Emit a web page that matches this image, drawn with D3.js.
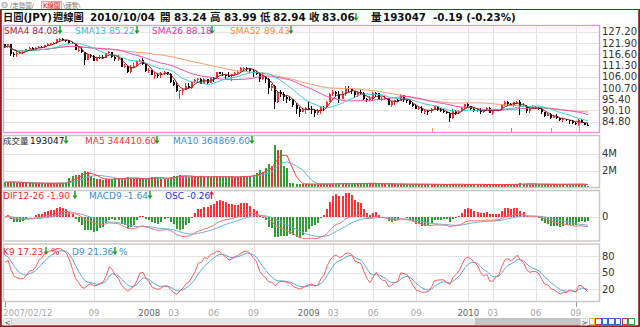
<!DOCTYPE html>
<html><head><meta charset="utf-8">
<script src="https://cdn.jsdelivr.net/npm/d3@7"></script>
<style>body{margin:0;background:#fff}svg{display:block}</style>
</head><body><svg id="chart" width="640" height="327"></svg>
<script>
// ---------------- DATA ----------------
const startDate = "2007-02-12";
const opens = [
121.3,119.9,121.2,116.9,116.5,117.4,117.5,117.8,118.9,119.6,
118.7,119.7,120.2,119.8,120.8,121.5,121.7,121.9,123.6,123.8,
123.2,123.1,121.8,121.4,118.8,118.8,117.5,114.1,116.4,115.8,
113.6,114.8,115.5,114.8,117.1,117.5,115.3,114.3,114.6,110.7,
110.9,108.3,110.8,111.1,113.2,114.1,112.0,108.8,109.1,106.8,
106.9,106.6,107.9,108.2,107.5,103.5,102.2,99.2,99.7,99.8,
101.7,100.9,103.4,104.4,105.0,102.6,104.8,103.2,105.5,105.2,
108.1,107.5,106.6,106.5,106.1,107.1,107.6,108.1,110.0,110.3,
110.0,108.9,107.9,107.8,104.7,105.9,105.1,100.5,101.8,94.0,
98.6,98.0,96.6,95.6,95.5,92.6,91.0,89.4,90.6,91.1,
90.9,90.5,88.7,89.8,91.8,91.5,94.3,97.7,98.7,98.0,
95.5,98.0,100.7,100.0,99.1,97.2,98.6,98.5,95.3,94.8,
95.3,98.5,98.2,95.2,95.6,95.8,92.8,94.1,94.8,94.7,
97.5,94.8,94.5,93.0,92.2,90.7,91.4,89.7,89.8,89.7,
90.9,92.0,90.1,89.9,89.6,88.9,86.5,89.8,89.1,89.9,
91.4,93.0,92.2,90.8,89.8,90.3,89.3,90.1,91.4,89.0,
90.1,90.5,90.2,92.5,94.2,93.2,92.2,93.9,94.2,91.7,
92.2,89.9,90.9,91.8,91.6,90.7,89.2,87.6,88.6,86.7,
87.3,86.6,85.4,86.2,85.6,85.2,84.3,83.9,85.8,84.3,
83.24];
const highs = [
121.5,121.6,121.3,117.6,118.0,118.4,118.3,119.0,120.1,119.9,
120.2,120.5,120.5,120.8,121.8,122.0,122.2,123.7,124.1,124.0,
123.4,123.3,122.4,121.9,119.9,119.8,117.8,116.6,116.7,116.4,
115.3,116.2,116.4,117.2,117.9,117.7,115.6,116.0,114.8,112.2,
111.0,111.3,112.3,113.2,114.2,114.6,112.1,110.1,109.2,108.0,
107.4,108.3,108.7,108.4,107.9,104.3,103.7,99.9,100.1,103.2,
102.9,103.5,104.7,105.2,105.4,105.2,105.1,105.6,106.0,108.3,
108.3,108.3,106.9,108.0,107.3,108.2,108.9,110.4,110.7,110.5,
110.1,109.6,108.5,108.1,108.0,106.4,105.2,102.4,101.9,99.3,
99.6,99.0,97.3,96.5,95.7,93.8,91.7,91.4,91.6,94.6,
92.0,90.9,90.9,92.1,92.2,94.5,98.3,99.7,99.4,99.4,
99.2,101.4,101.4,100.2,99.3,99.2,99.9,98.7,96.1,97.0,
98.9,98.9,98.3,96.6,96.8,96.0,94.4,95.2,95.6,97.8,
97.6,95.2,94.9,93.4,93.0,92.0,92.0,90.2,90.3,91.3,
92.3,92.3,91.1,90.6,89.8,89.2,90.8,90.1,90.2,91.8,
93.2,93.8,92.3,91.9,91.2,91.3,90.2,91.8,91.6,90.2,
90.8,90.8,92.8,94.4,94.7,93.5,94.0,94.7,94.9,93.6,
92.6,91.9,92.5,92.3,91.9,91.2,89.4,89.1,88.8,87.7,
88.5,86.7,86.6,86.3,85.7,85.4,84.5,86.0,85.9,84.4,
83.99];
const lows = [
119.6,119.7,115.8,115.2,115.5,116.9,116.6,117.6,118.6,117.9,
118.5,119.5,119.5,119.7,120.6,120.8,121.3,121.6,123.0,122.8,
122.2,121.5,121.2,118.5,117.6,117.2,111.6,113.8,114.8,113.4,
113.3,114.3,114.5,114.7,116.8,114.8,113.2,113.5,110.6,109.9,
107.9,107.6,109.9,110.6,112.9,111.6,108.4,107.8,106.6,105.1,
105.6,105.3,106.8,106.9,102.9,101.8,98.9,95.7,97.4,99.5,
100.1,100.4,102.9,102.8,102.4,102.4,102.7,102.9,103.6,105.0,
107.1,106.5,104.9,105.9,103.8,106.5,107.1,107.7,108.6,108.3,
107.9,105.9,106.6,103.5,104.3,103.0,97.9,99.1,90.9,93.7,
96.6,94.7,93.6,94.7,91.7,88.3,87.1,89.2,88.6,90.5,
88.5,87.1,88.1,88.6,89.9,91.4,94.0,96.9,96.9,93.5,
95.4,96.7,99.0,98.0,95.8,96.4,97.3,94.9,93.9,94.4,
95.0,96.5,94.9,94.5,94.9,92.5,91.9,92.9,94.0,94.4,
94.3,93.6,92.6,91.8,90.6,90.4,88.9,88.2,88.0,88.8,
90.4,90.0,89.2,88.8,88.4,84.8,86.1,87.9,88.6,89.6,
90.6,91.6,90.5,89.6,89.3,88.5,88.9,90.0,88.9,88.1,
89.8,89.9,90.1,92.3,92.8,92.0,91.8,93.4,88.0,91.6,
89.0,88.9,90.6,90.8,90.4,88.6,86.8,87.4,86.3,86.4,
86.3,85.0,84.7,85.0,83.6,83.8,83.3,82.9,84.1,83.1,
82.94];
const closes = [
119.9,121.2,116.9,116.5,117.4,117.5,117.8,118.9,119.6,118.7,
119.7,120.2,119.8,120.8,121.5,121.7,121.9,123.6,123.8,123.2,
123.1,121.8,121.4,118.8,118.8,117.5,114.1,116.4,115.8,113.6,
114.8,115.5,114.8,117.1,117.5,115.3,114.3,114.6,110.7,110.9,
108.3,110.8,111.1,113.2,114.1,112.0,108.8,109.1,106.8,106.9,
106.6,107.9,108.2,107.5,103.5,102.2,99.2,99.7,99.8,101.7,
100.9,103.4,104.4,105.0,102.6,104.8,103.2,105.5,105.2,108.1,
107.5,106.6,106.5,106.1,107.1,107.6,108.1,110.0,110.3,110.0,
108.9,107.9,107.8,104.7,105.9,105.1,100.5,101.8,94.0,98.6,
98.0,96.6,95.6,95.5,92.6,91.0,89.4,90.6,91.1,90.9,
90.5,88.7,89.8,91.8,91.5,94.3,97.7,98.7,98.0,95.5,
98.0,100.7,100.0,99.1,97.2,98.6,98.5,95.3,94.8,95.3,
98.5,98.2,95.2,95.6,95.8,92.8,94.1,94.8,94.7,97.5,
94.8,94.5,93.0,92.2,90.7,91.4,89.7,89.8,89.7,90.9,
92.0,90.1,89.9,89.6,88.9,86.5,89.8,89.1,89.9,91.4,
93.0,92.2,90.8,89.8,90.3,89.3,90.1,91.4,89.0,90.1,
90.5,90.2,92.5,94.2,93.2,92.2,93.9,94.2,91.7,92.2,
89.9,90.9,91.8,91.6,90.7,89.2,87.6,88.6,86.7,87.3,
86.6,85.4,86.2,85.6,85.2,84.3,83.9,85.8,84.3,83.25,
83.06];
const volumes = [
640000,600000,700000,620000,580000,560000,520000,500000,540000,480000,
510000,530000,490000,470000,500000,520000,480000,540000,560000,510000,
490000,1100000,1350000,1500000,1450000,1700000,1950000,1800000,1300000,1100000,
1000000,950000,900000,1050000,950000,1000000,1100000,1000000,1150000,1100000,
1200000,1150000,1050000,1000000,950000,1000000,1050000,1150000,1200000,1250000,
1100000,1050000,1000000,1050000,1250000,1300000,1400000,1500000,1350000,1300000,
1250000,1300000,1250000,1200000,1300000,1250000,1200000,1250000,1300000,1350000,
1250000,1200000,1250000,1200000,1300000,1250000,1200000,1350000,1400000,1300000,
1350000,1500000,1700000,2100000,1800000,2300000,2800000,2500000,5000000,4400000,
4400000,2500000,2300000,520000,480000,450000,430000,400000,380000,420000,
410000,430000,400000,420000,390000,430000,470000,450000,430000,460000,
440000,480000,450000,420000,440000,430000,460000,520000,540000,500000,
470000,430000,450000,420000,400000,430000,410000,390000,380000,400000,
410000,380000,370000,390000,400000,380000,390000,370000,360000,380000,
370000,360000,350000,340000,360000,420000,400000,370000,350000,340000,
360000,380000,370000,360000,350000,370000,340000,350000,360000,340000,
330000,340000,360000,380000,370000,360000,370000,380000,480000,450000,
430000,420000,400000,380000,370000,380000,390000,370000,380000,360000,
370000,400000,380000,365000,401643,380000,352000,455000,371006,351000,
193047];

const priceTicks = [127.20,121.90,116.60,111.30,106.00,100.70,95.40,90.10,84.80];
const volTicks = [4000000,2000000];
const volTickLabels = ["4M","2M"];
const macdTicks = [0];
const kdTicks = [80,50,20];
const xTickMonths = ["2007-09","2008-01","2008-03","2008-06","2008-09","2009-01","2009-03","2009-06","2009-09","2010-01","2010-03","2010-06","2010-09"];
const xTickLabels = ["09","2008","03","06","09","2009","03","06","09","2010","03","06","09"];
const xFirstLabel = "2007/02/12";
const maPeriods = [4,13,26,52];
const maNames = ["SMA4","SMA13","SMA26","SMA52"];
const maValues = ["84.08","85.22","88.18","89.43"];
const volMaPeriods = [5,10];
const volLegendValues = ["193047","344410.60","364869.60"];
const macdLegendValues = ["-1.90","-1.64","-0.26"];
const kdLegendValues = ["17.23","21.36"];
const kdSeed = [95,88];
const headerTokens = ["日圓(JPY)","週線圖","2010/10/04","開","83.24","高","83.99","低","82.94","收","83.06","量","193047","-0.19 (-0.23%)"];

// ---------------- SETUP ----------------
const svg = d3.select("#chart");
const n = closes.length;
const parse = d3.timeParse("%Y-%m-%d");
const dates = d3.range(n).map(i => d3.timeDay.offset(parse(startDate), 7*i));
const fmtM = d3.timeFormat("%Y-%m");
const F = "'DejaVu Sans','Noto Sans CJK TC',sans-serif";
const FH = "'DejaVu Sans','Noto Sans CJK TC','Noto Sans CJK JP',sans-serif";
const UP = "#ff2a2a", DOWN_C = "#000", GREEN = "#2e9e2e";

const x = d3.scaleLinear().domain([0, n-1]).range([5, 588]);
const L = 3, R = 600;
const P = {price:[25,133], vol:[135,188], macd:[190,241.5], kd:[243.5,302]};

const yP = d3.scaleLinear().domain([84.8,127.2]).range([121.7,31.7]);
const yV = d3.scaleLinear().domain([0,4000000]).range([187.5,153.5]);
const yK = d3.scaleLinear().domain([20,80]).range([289.3,256]);

// indicators
function sma(arr,p){return arr.map((_,i)=>d3.mean(arr.slice(Math.max(0,i-p+1),i+1)));}
function ema(arr,p){const a=2/(p+1);const o=[];arr.forEach((v,i)=>o.push(i===0?v:o[i-1]+a*(v-o[i-1])));return o;}
const mas = maPeriods.map(p=>sma(closes,p));
const vmas = volMaPeriods.map(p=>sma(volumes,p));
const e12 = ema(closes,12), e26 = ema(closes,26);
const dif = closes.map((_,i)=>e12[i]-e26[i]);
const dea = ema(dif,9);
const osc = dif.map((d,i)=>d-dea[i]);
const K=[],D=[];
{let kp=kdSeed[0],dp=kdSeed[1];
 for(let i=0;i<n;i++){const s=Math.max(0,i-8);
  const lo=d3.min(lows.slice(s,i+1)), hi=d3.max(highs.slice(s,i+1));
  const rsv = hi>lo?(closes[i]-lo)/(hi-lo)*100:50;
  const k=kp*2/3+rsv/3, d=dp*2/3+k/3; K.push(k);D.push(d);kp=k;dp=d;}}
const mLine = d3.max(dif.concat(dea).map(Math.abs));
const yM = d3.scaleLinear().domain([-mLine,mLine]).range([216.7+22,216.7-22]);
const mOsc = d3.max(osc.map(Math.abs));
const yO = d3.scaleLinear().domain([-mOsc,mOsc]).range([216.7+23.5,216.7-23.5]);

svg.append("rect").attr("width",640).attr("height",327).attr("fill","#fff");

// clip paths
const defs = svg.append("defs");
Object.entries(P).forEach(([k,[a,b]])=>{
  defs.append("clipPath").attr("id","clip-"+k).append("rect").attr("x",L).attr("y",a).attr("width",R-L).attr("height",b-a);
});

const tickIdx = xTickMonths.map(m=>dates.findIndex(d=>fmtM(d)===m));

// grids
function grid(key, yvals){
  const g = svg.append("g").attr("shape-rendering","crispEdges");
  const [a,b]=P[key];
  g.selectAll(".v").data(tickIdx).join("line")
    .attr("x1",i=>Math.round(x(i))+0.5).attr("x2",i=>Math.round(x(i))+0.5)
    .attr("y1",a).attr("y2",b).attr("stroke","#e2e2e2");
  g.selectAll(".h").data(yvals).join("line")
    .attr("x1",L).attr("x2",R).attr("y1",d=>Math.round(d)+0.5).attr("y2",d=>Math.round(d)+0.5)
    .attr("stroke","#e4e4e4");
}
grid("price", priceTicks.map(yP));
grid("vol", volTicks.map(yV));
grid("macd", macdTicks.map(yM));
grid("kd", kdTicks.map(yK));

// ---- price pane ----
const gp = svg.append("g").attr("clip-path","url(#clip-price)");
const up = i => closes[i] >= opens[i];
gp.append("g").attr("shape-rendering","crispEdges").selectAll("rect.w").data(d3.range(n)).join("rect")
  .attr("x",i=>Math.round(x(i))-1).attr("width",1)
  .attr("y",i=>yP(highs[i])).attr("height",i=>Math.max(1,yP(lows[i])-yP(highs[i])))
  .attr("fill",i=>up(i)?UP:DOWN_C);
gp.append("g").attr("shape-rendering","crispEdges").selectAll("rect.b").data(d3.range(n)).join("rect")
  .attr("x",i=>Math.round(x(i))-1).attr("width",2)
  .attr("y",i=>yP(Math.max(opens[i],closes[i])))
  .attr("height",i=>Math.max(1,Math.abs(yP(opens[i])-yP(closes[i]))))
  .attr("fill",i=>up(i)?UP:DOWN_C);
const maColors = ["#8b1c1c","#3cd0d0","#ee4fb0","#ff9a66"];
const lineP = d3.line().x((d,i)=>x(i)).y(d=>yP(d));
[3,2,1,0].forEach(k=>{
  gp.append("path").attr("d",lineP(mas[k])).attr("fill","none").attr("stroke",maColors[k]).attr("stroke-width",1);
});
// small markers at bottom of price pane
const markerIdx = [139,165,178,187];
const markerCol = ["#ff9a55","#ff5577","#44cccc","#aaaaaa"];
svg.append("g").attr("shape-rendering","crispEdges").selectAll("line").data(markerIdx).join("line")
  .attr("x1",i=>Math.round(x(i))+0.5).attr("x2",i=>Math.round(x(i))+0.5)
  .attr("y1",(i,j)=>j===3?123:128).attr("y2",133).attr("stroke",(i,j)=>markerCol[j]);

// ---- volume pane ----
const gv = svg.append("g").attr("clip-path","url(#clip-vol)");
gv.append("g").attr("shape-rendering","crispEdges").selectAll("rect").data(d3.range(n)).join("rect")
  .attr("x",i=>Math.round(x(i))-1).attr("width",2)
  .attr("y",i=>yV(volumes[i])).attr("height",i=>Math.max(1,yV(0)-yV(volumes[i])))
  .attr("fill",i=>up(i)?"#f03030":GREEN);
const lineV = d3.line().x((d,i)=>x(i)).y(d=>yV(d));
gv.append("path").attr("d",lineV(vmas[1])).attr("fill","none").attr("stroke","#6aaee0").attr("stroke-width",1);
gv.append("path").attr("d",lineV(vmas[0])).attr("fill","none").attr("stroke","#ff4040").attr("stroke-width",1);

// ---- MACD pane ----
const gm = svg.append("g").attr("clip-path","url(#clip-macd)");
gm.append("g").attr("shape-rendering","crispEdges").selectAll("rect").data(d3.range(n)).join("rect")
  .attr("x",i=>Math.round(x(i))-1).attr("width",2)
  .attr("y",i=>Math.min(yO(osc[i]),yO(0))).attr("height",i=>Math.max(0.5,Math.abs(yO(osc[i])-yO(0))))
  .attr("fill",i=>osc[i]>=0?"#ff3030":GREEN);
const lineM = d3.line().x((d,i)=>x(i)).y(d=>yM(d));
gm.append("path").attr("d",lineM(dea)).attr("fill","none").attr("stroke","#6aaee0").attr("stroke-width",1);
gm.append("path").attr("d",lineM(dif)).attr("fill","none").attr("stroke","#ff6d6d").attr("stroke-width",1);

// ---- KD pane ----
const gk = svg.append("g").attr("clip-path","url(#clip-kd)");
const lineK = d3.line().x((d,i)=>x(i)).y(d=>yK(d));
gk.append("path").attr("d",lineK(D)).attr("fill","none").attr("stroke","#5aa6e0").attr("stroke-width",1);
gk.append("path").attr("d",lineK(K)).attr("fill","none").attr("stroke","#ff5a5a").attr("stroke-width",1);

// ---- pane borders ----
svg.append("rect").attr("x",L+0.5).attr("y",P.price[0]+0.5).attr("width",R-L-1).attr("height",P.price[1]-P.price[0]-1)
  .attr("fill","none").attr("stroke","#f08cf0").attr("stroke-width",1.3);
["vol","macd","kd"].forEach(k=>{
  svg.append("rect").attr("x",L+0.5).attr("y",P[k][0]+0.5).attr("width",R-L-1).attr("height",P[k][1]-P[k][0]-1)
    .attr("fill","none").attr("stroke","#cbc7c3").attr("stroke-width",1.5);
});

// ---- right axes ----
function axisRight(scale, ticks, fmt){
  const ax = d3.axisRight(scale).tickValues(ticks).tickSize(0).tickPadding(0).tickFormat(fmt);
  const g = svg.append("g").attr("transform",`translate(601,0)`).call(ax);
  g.select(".domain").remove();
  g.selectAll("text").attr("font-family",F).attr("font-size","10px").attr("fill","#333").attr("x",1);
}
axisRight(yP, priceTicks, d3.format(".2f"));
axisRight(yV, volTicks, (d,i)=>volTickLabels[i]);
axisRight(yM, macdTicks, d3.format("d"));
axisRight(yK, kdTicks, d3.format("d"));

// ---- x axis labels ----
const gx = svg.append("g");
gx.append("text").attr("x",3).attr("y",315.5).text(xFirstLabel)
  .attr("font-family",F).attr("font-size","8.6px").attr("fill","#a8a8a8");
gx.selectAll("text.t").data(tickIdx).join("text").attr("class","t")
  .attr("x",i=>x(i)).attr("y",315.5).attr("text-anchor","middle")
  .text((i,j)=>xTickLabels[j]).attr("font-family",F).attr("font-size","8.6px")
  .attr("fill",(i,j)=>xTickLabels[j].length===4?"#666":"#a8a8a8");
svg.append("g").attr("shape-rendering","crispEdges").selectAll("line").data([0,tickIdx[tickIdx.length-1]]).join("line")
  .attr("x1",i=>Math.round(x(i))+0.5).attr("x2",i=>Math.round(x(i))+0.5).attr("y1",302).attr("y2",307).attr("stroke","#999");

// ---- legends ----
function T(xp,yp,s,col,size,weight,fam){
  return svg.append("text").attr("x",xp).attr("y",yp).text(s).attr("font-family",fam||F)
    .attr("font-size",(size||9)+"px").attr("font-weight",weight||"normal").attr("fill",col);
}
function arrow(cx,by,dirUp,col){
  const ty = by-8;
  const d = dirUp
    ? `M${cx-0.7},${by} L${cx-0.7},${ty+3.5} L${cx-2.6},${ty+3.5} L${cx},${ty} L${cx+2.6},${ty+3.5} L${cx+0.7},${ty+3.5} L${cx+0.7},${by} Z`
    : `M${cx-0.7},${ty} L${cx-0.7},${by-3.5} L${cx-2.6},${by-3.5} L${cx},${by} L${cx+2.6},${by-3.5} L${cx+0.7},${by-3.5} L${cx+0.7},${ty} Z`;
  svg.append("path").attr("d",d).attr("fill",col);
}
const AG = "#17a017";
// price legend
const maLx = [4,75,152,230], maAx = [60,137,212,291];
const maTxtCol = ["#993333","#33c6c6","#ee3399","#ff8844"];
maNames.forEach((nm,i)=>{T(maLx[i],34,nm+" "+maValues[i],maTxtCol[i],9);arrow(maAx[i],34,false,AG);});
// volume legend
T(3,144,"成交量","#333",8.5); T(30,144,volLegendValues[0],"#111",9); arrow(66,144,false,AG);
T(85,144,"MA5 "+volLegendValues[1],"#ff3333",9); arrow(157,144,false,AG);
T(173,144,"MA10 "+volLegendValues[2],"#3d8fd0",9); arrow(252,144,false,AG);
// macd legend
T(3,199,"DIF12-26 "+macdLegendValues[0],"#ff2a2a",9); arrow(75,199,false,AG);
T(89,199,"MACD9 "+macdLegendValues[1],"#3d8fd0",9); arrow(150,199,false,AG);
T(165,199,"OSC "+macdLegendValues[2],"#2233ee",9); arrow(211.5,199,true,"#ee2222");
// kd legend
T(3,255,"K9 "+kdLegendValues[0],"#ff2a2a",9); arrow(46,255,false,AG); T(51,255,"%","#ff2a2a",9);
T(72,255,"D9 "+kdLegendValues[1],"#3d8fd0",9); arrow(115,255,false,AG); T(119,255,"%","#3d8fd0",9);

// ---- header ----
const hx = [3,53,90,160,174,210,224,260,273,309,322,371,383,433];
headerTokens.forEach((s,i)=>{
  const cjk = /[\u3400-\u9fff]/.test(s) && s.length===1;
  T(hx[i],21,s,"#111",cjk?10.5:10.3,"bold",cjk?"'Noto Sans CJK TC','Noto Sans CJK JP',sans-serif":FH);
});
arrow(356,21,false,AG);

// ---- top tabs ----
svg.append("circle").attr("cx",4.5).attr("cy",5).attr("r",2.8).attr("fill","#ddd").attr("stroke","#999").attr("stroke-width",0.7);
T(10,8,"/走勢圖/","#777",6.5);
svg.append("rect").attr("x",41.5).attr("y",1.5).attr("width",20).attr("height",8).attr("fill","#fde0e0").attr("stroke","#e08080").attr("stroke-width",0.7);
T(43,8,"K線圖","#e02020",6.5);
T(63,8,"\\速覽\\","#777",6.5);

// ---- frame ----
const FR = "#8e1f1f";
svg.append("line").attr("x1",0).attr("x2",640).attr("y1",9.5).attr("y2",9.5).attr("stroke",FR).attr("stroke-width",1);
svg.append("rect").attr("x",0).attr("y",9).attr("width",1.8).attr("height",318).attr("fill",FR);
svg.append("rect").attr("x",638.2).attr("y",9).attr("width",1.8).attr("height",318).attr("fill",FR);
svg.append("rect").attr("x",0).attr("y",325.3).attr("width",640).attr("height",1.7).attr("fill",FR);

// ---- scrollbar ----
const sb = svg.append("g").attr("shape-rendering","crispEdges");
sb.append("rect").attr("x",3).attr("y",318).attr("width",584).attr("height",7).attr("fill","#e6e6e6");
sb.append("rect").attr("x",3).attr("y",318).attr("width",8).attr("height",7).attr("fill","#f4f4f4").attr("stroke","#bbb").attr("stroke-width",0.5);
T(4.5,324.5,"<","#333",7);
sb.append("rect").attr("x",475).attr("y",318).attr("width",105).attr("height",7).attr("fill","#c4c4c4");
sb.append("rect").attr("x",580).attr("y",318).attr("width",7).attr("height",7).attr("fill","#f4f4f4").attr("stroke","#bbb").attr("stroke-width",0.5);
T(581.5,324.5,">","#333",7);
const iconCols = ["#e8b830","#d83030","#3a5fd8","#3a5fd8","#3a5fd8","#d83030","#40a040"];
iconCols.forEach((c,i)=>sb.append("rect").attr("x",589+i*6.6).attr("y",318.5).attr("width",5.5).attr("height",6).attr("fill","#fff").attr("stroke",c).attr("stroke-width",1));
</script></body></html>
